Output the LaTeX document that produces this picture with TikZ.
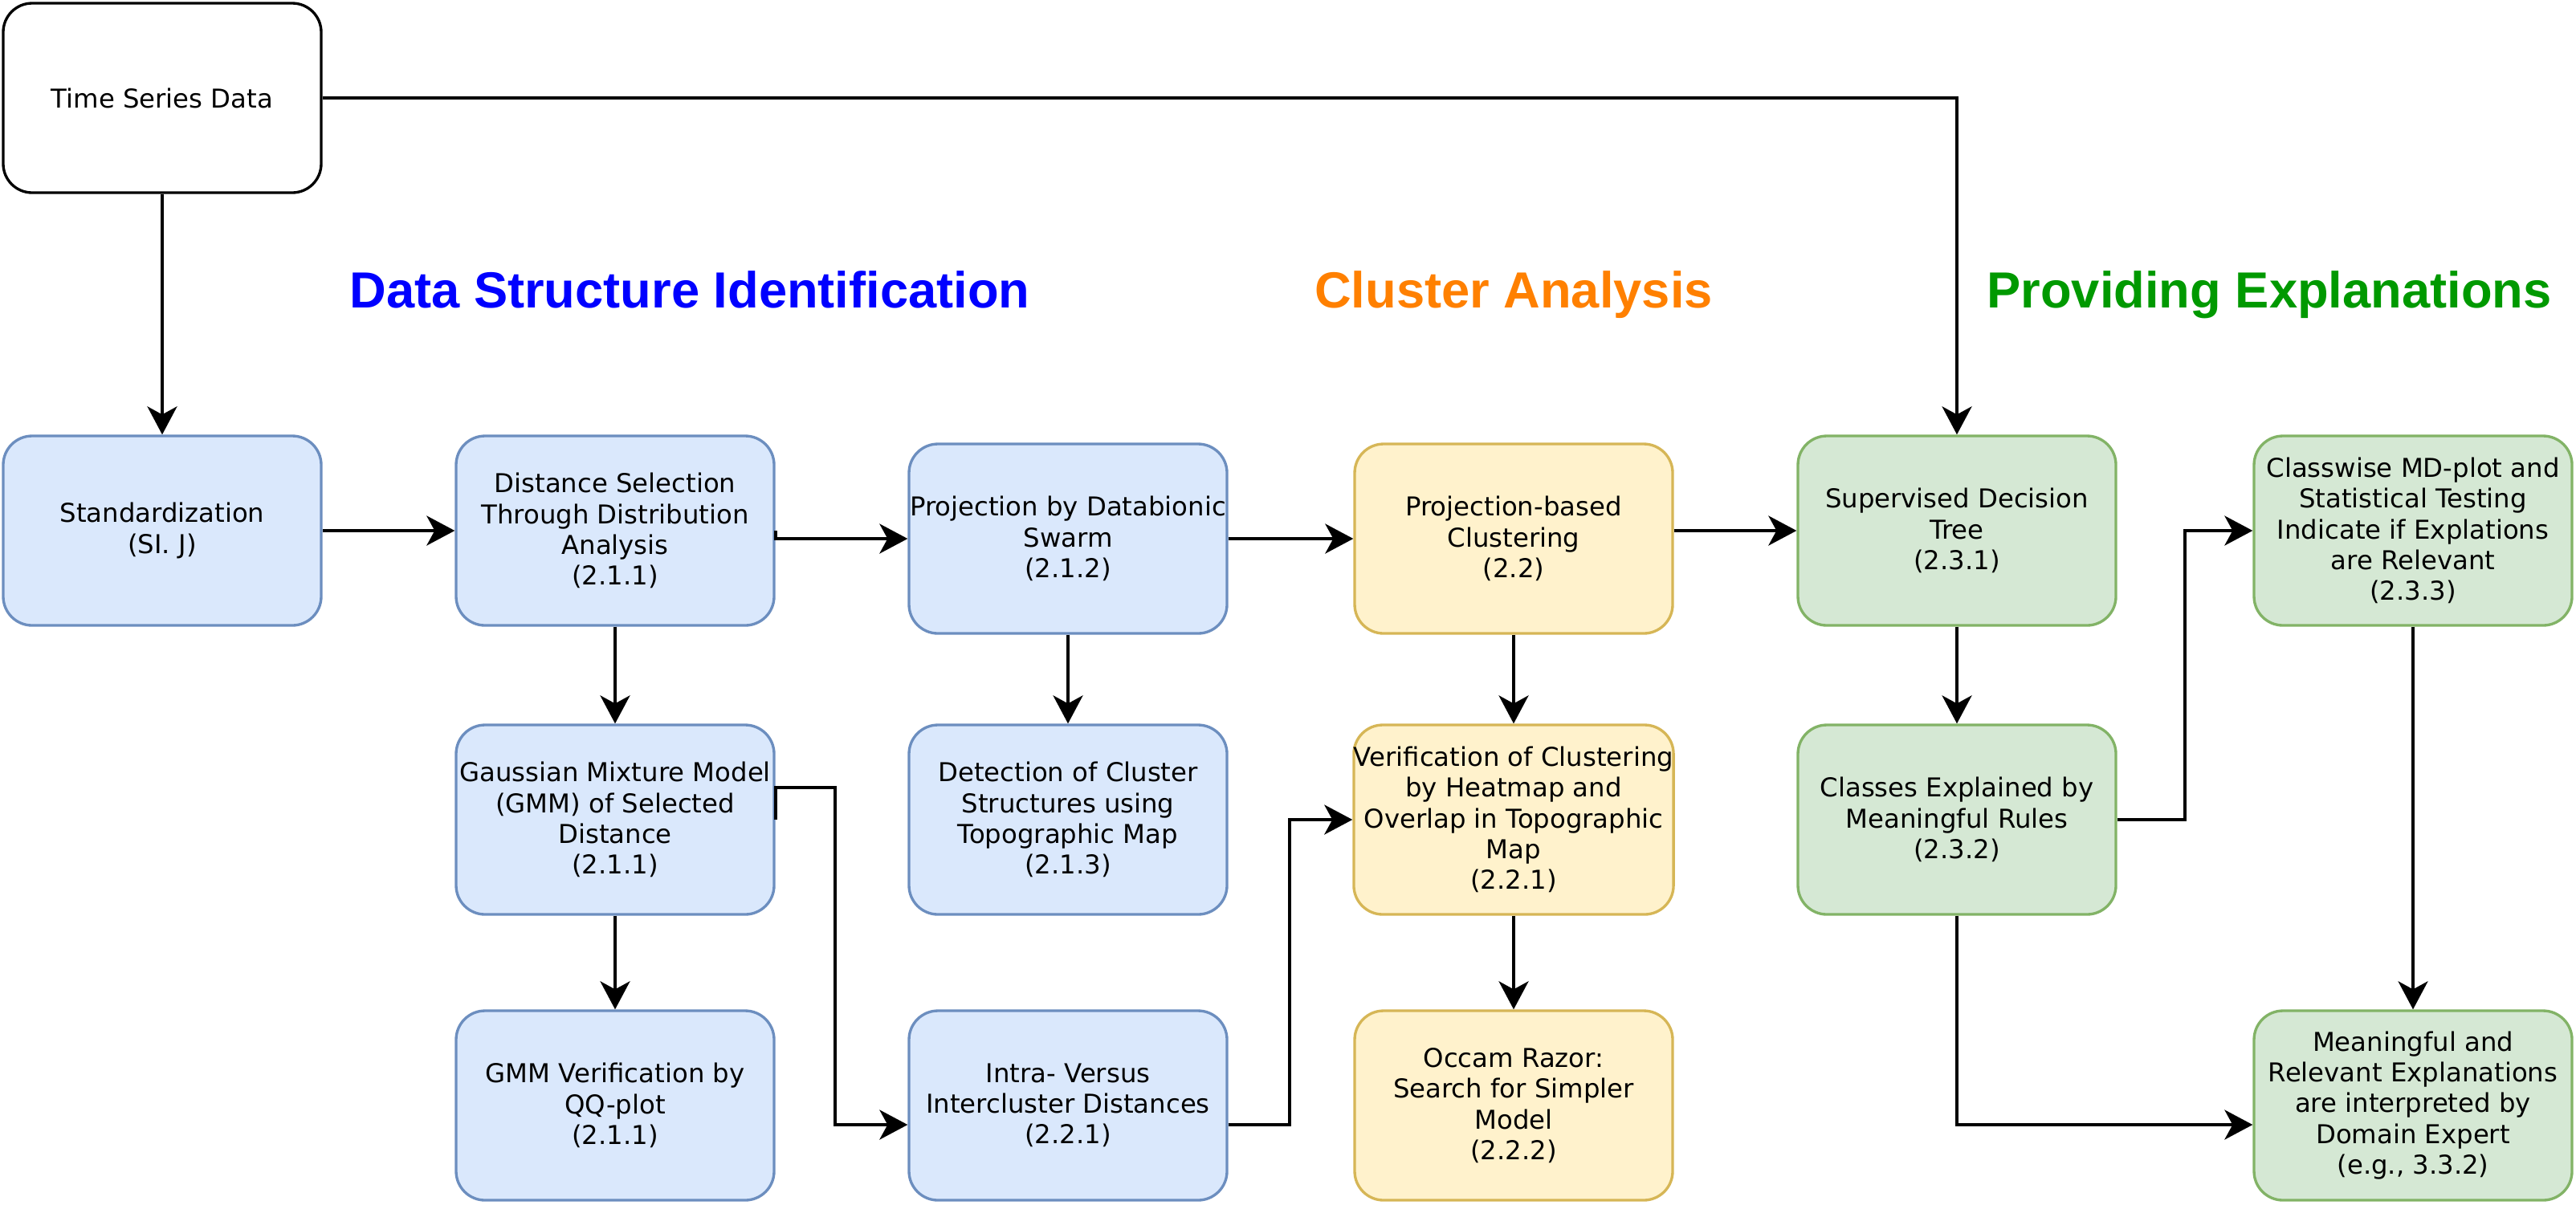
\documentclass[tikz,border=0pt]{standalone}
\usepackage{fontspec}
\setmainfont{DejaVu Sans}
\newfontfamily\headfont{Liberation Sans}
\usetikzlibrary{arrows.meta}
\definecolor{dsfill}{HTML}{DAE8FC}
\definecolor{dsline}{HTML}{6C8EBF}
\definecolor{cafill}{HTML}{FFF2CC}
\definecolor{caline}{HTML}{D6B656}
\definecolor{pefill}{HTML}{D5E8D4}
\definecolor{peline}{HTML}{82B366}
\definecolor{dshead}{HTML}{0000FF}
\definecolor{cahead}{HTML}{FF8000}
\definecolor{pehead}{HTML}{009900}

\begin{document}
\begin{tikzpicture}[
	box/.style={draw, rounded corners=0.36cm, line width=0.95pt, minimum width=3.96cm, minimum height=2.36cm, align=center, inner sep=0pt, font=\fontsize{9.2}{10.9}\selectfont},
	dsbox/.style={box, draw=dsline, fill=dsfill},
	cabox/.style={box, draw=caline, fill=cafill},
	pebox/.style={box, draw=peline, fill=pefill},
	headline/.style={anchor=base, font=\headfont\bfseries\fontsize{18}{21}\selectfont},
	flow/.style={black, line width=1.1pt, -{Stealth[length=3.5mm, width=3.7mm, inset=1mm]}}
]
	\useasboundingbox (0,0) rectangle (32.08,-15);
	\node[box, draw=black, fill=white] (ts) at (2.02,-1.22) {Time Series Data};
	\node[dsbox] (std) at (2.02,-6.61) {Standardization\\(SI. J)};
	\node[dsbox] (dist) at (7.66,-6.61) {Distance Selection\\Through Distribution\\Analysis\\(2.1.1)};
	\node[dsbox] (gmm) at (7.66,-10.21) {Gaussian Mixture Model\\(GMM) of Selected\\Distance\\(2.1.1)};
	\node[dsbox] (gmmqq) at (7.66,-13.77) {GMM Verification by\\QQ-plot\\(2.1.1)};
	\node[dsbox] (swarm) at (13.30,-6.71) {Projection by Databionic\\Swarm\\(2.1.2)};
	\node[dsbox] (topo) at (13.30,-10.21) {Detection of Cluster\\Structures using\\Topographic Map\\(2.1.3)};
	\node[dsbox] (intra) at (13.30,-13.77) {Intra- Versus\\Intercluster Distances\\(2.2.1)};
	\node[cabox] (pbc) at (18.85,-6.71) {Projection-based\\Clustering\\(2.2)};
	\node[cabox] (verif) at (18.85,-10.21) {Verification of Clustering\\by Heatmap and\\Overlap in Topographic\\Map\\(2.2.1)};
	\node[cabox] (occam) at (18.85,-13.77) {Occam Razor:\\Search for Simpler\\Model\\(2.2.2)};
	\node[pebox] (tree) at (24.37,-6.61) {Supervised Decision\\Tree\\(2.3.1)};
	\node[pebox] (rules) at (24.37,-10.21) {Classes Explained by\\Meaningful Rules\\(2.3.2)};
	\node[pebox] (mdplot) at (30.05,-6.61) {Classwise MD-plot and\\Statistical Testing\\Indicate if Explations\\are Relevant\\(2.3.3)};
	\node[pebox] (expert) at (30.05,-13.77) {Meaningful and\\Relevant Explanations\\are interpreted by\\Domain Expert\\(e.g., 3.3.2)};
	\node[headline, text=dshead] (dshd) at (8.59,-3.83) {Data Structure Identification};
	\node[headline, text=cahead] (cahd) at (18.85,-3.83) {Cluster Analysis};
	\node[headline, text=pehead] (pehd) at (28.26,-3.83) {Providing Explanations};
	\draw[flow] (ts) -- (std);
	\draw[flow] (ts.east) -| (tree);
	\draw[flow] (std) -- (dist);
	\draw[flow] (dist.east) |- (swarm.west);
	\draw[flow] (swarm) -- (pbc);
	\draw[flow] (pbc.east |- tree.west) -- (tree.west);
	\draw[flow] (dist) -- (gmm);
	\draw[flow] (gmm) -- (gmmqq);
	\draw[flow] (swarm) -- (topo);
	\draw[flow] (gmm.east) |- ++(0.74,0.4) |- ([yshift=-2.4mm]intra.west);
	\draw[flow] ([yshift=-2.4mm]intra.east) -- ++(0.76,0) |- (verif.west);
	\draw[flow] (pbc) -- (verif);
	\draw[flow] (verif) -- (occam);
	\draw[flow] (tree) -- (rules);
	\draw[flow] (rules.east) -- ++(0.84,0) |- (mdplot.west);
	\draw[flow] (mdplot) -- (expert);
	\draw[flow] (rules) |- ([yshift=-2.4mm]expert.west);
\end{tikzpicture}
\end{document}
